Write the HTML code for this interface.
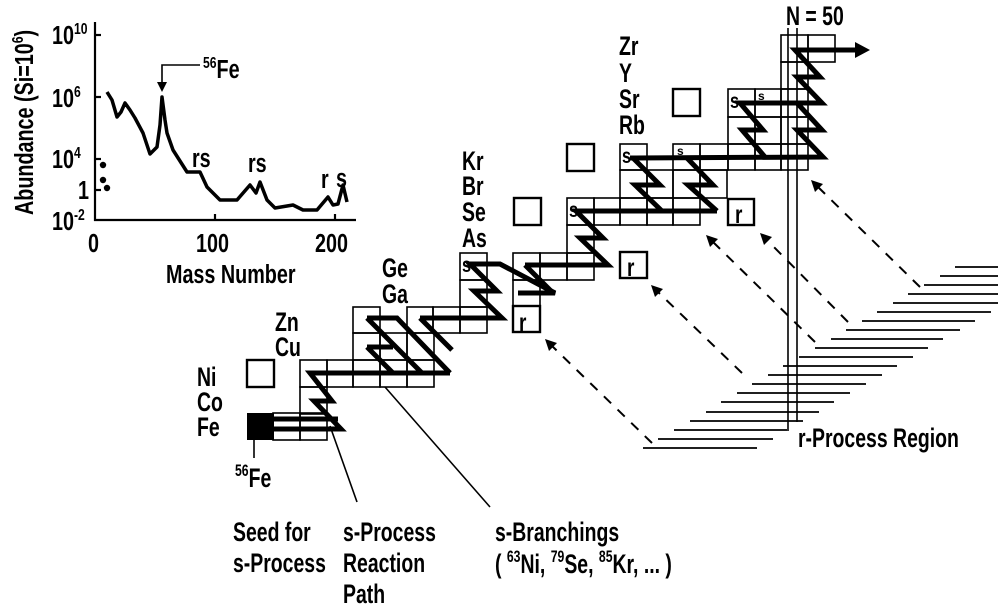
<!DOCTYPE html>
<html><head><meta charset="utf-8"><style>
html,body{margin:0;padding:0;background:#fff}
svg{display:block}
text{font-family:"Liberation Sans",sans-serif;font-weight:bold;fill:#000}
</style></head><body>
<svg width="1003" height="606" viewBox="0 0 1003 606" xmlns="http://www.w3.org/2000/svg">
<!-- Inset plot -->
<g stroke="#000" fill="none" stroke-width="2.2">
<line x1="95" y1="22" x2="95" y2="221"/>
<line x1="94" y1="220" x2="356" y2="220"/>
<line x1="95" y1="35" x2="101" y2="35"/><line x1="95" y1="97" x2="101" y2="97"/><line x1="95" y1="159" x2="101" y2="159"/><line x1="95" y1="190" x2="101" y2="190"/>
<line x1="215" y1="220" x2="215" y2="214"/><line x1="335" y1="220" x2="335" y2="214"/>
<polyline stroke-width="3.5" stroke-linejoin="round" points="107,92 112,100 117,117 121,112 125,103 130,110 135,118 143,133 150,154 157,147 160,125 162,97 165,120 167,133 173,150 187,172 200,172 207,187 220,200 237,200 250,185 256,193 260,182 267,200 275,208 293,205 303,210 317,210 328,197 333,205 338,204 343,185 347,202"/>
<polyline stroke-width="1.6" points="200,65 162,65 162,84"/>
</g>
<polygon points="157,82 167,82 162,92" fill="#000"/>
<circle cx="103" cy="165" r="3.2" fill="#000"/><circle cx="103" cy="180" r="3.2" fill="#000"/><circle cx="107" cy="188" r="3.2" fill="#000"/>
<g font-size="26">
<text transform="translate(33,215) rotate(-90) scale(.76,1)">Abundance (Si=10<tspan font-size="16" dy="-10">6</tspan><tspan dy="10">)</tspan></text>
<text transform="translate(52,44) scale(.76,1)">10<tspan font-size="16" dy="-10">10</tspan></text>
<text transform="translate(52,107) scale(.76,1)">10<tspan font-size="16" dy="-10">6</tspan></text>
<text transform="translate(52,168) scale(.76,1)">10<tspan font-size="16" dy="-10">4</tspan></text>
<text transform="translate(78,199) scale(.76,1)">1</text>
<text transform="translate(52,230) scale(.76,1)">10<tspan font-size="16" dy="-10">-2</tspan></text>
<text transform="translate(88,252) scale(.76,1)">0</text>
<text transform="translate(196,252) scale(.76,1)">100</text>
<text transform="translate(315,252) scale(.76,1)">200</text>
<text transform="translate(166,283) scale(.76,1)">Mass Number</text>
<text transform="translate(203,78) scale(.76,1)"><tspan font-size="16" dy="-10">56</tspan><tspan dy="10">Fe</tspan></text>
<text transform="translate(192,167) scale(.76,1)">rs</text>
<text transform="translate(248,172) scale(.76,1)">rs</text>
<text transform="translate(321,188) scale(.76,1)">r</text>
<text transform="translate(336,187) scale(.76,1)">s</text>
</g>

<!-- Grid cells -->
<rect x="247" y="413" width="27" height="27" fill="#000"/>
<g fill="none" stroke="#000" stroke-width="1.6">
<rect x="273" y="413" width="27" height="27"/><rect x="300" y="413" width="27" height="27"/>
<rect x="300" y="387" width="27" height="27"/>
<rect x="300" y="360" width="27" height="27"/><rect x="327" y="360" width="26" height="27"/><rect x="353" y="360" width="27" height="27"/><rect x="380" y="360" width="27" height="27"/><rect x="407" y="360" width="27" height="27"/>
<rect x="353" y="333" width="27" height="27"/><rect x="380" y="333" width="27" height="27"/><rect x="407" y="333" width="27" height="27"/>
<rect x="353" y="307" width="27" height="26"/><rect x="407" y="307" width="26" height="26"/><rect x="433" y="307" width="27" height="26"/><rect x="460" y="307" width="27" height="26"/>
<rect x="460" y="280" width="27" height="27"/><rect x="460" y="253" width="27" height="27"/>
<rect x="513" y="280" width="27" height="26"/><rect x="513" y="253" width="27" height="27"/><rect x="540" y="253" width="27" height="27"/><rect x="567" y="253" width="27" height="27"/>
<rect x="567" y="225" width="27" height="28"/><rect x="567" y="198" width="27" height="27"/><rect x="594" y="198" width="26" height="27"/><rect x="620" y="198" width="27" height="27"/><rect x="647" y="198" width="26" height="27"/><rect x="673" y="198" width="27" height="27"/>
<rect x="620" y="170" width="27" height="28"/><rect x="647" y="170" width="26" height="28"/><rect x="673" y="170" width="27" height="28"/><rect x="700" y="170" width="27" height="28"/>
<rect x="620" y="144" width="27" height="26"/><rect x="673" y="144" width="27" height="26"/><rect x="700" y="144" width="28" height="26"/><rect x="728" y="144" width="27" height="26"/><rect x="755" y="144" width="26" height="26"/><rect x="781" y="144" width="27" height="26"/>
<rect x="728" y="117" width="27" height="27"/><rect x="755" y="117" width="26" height="27"/><rect x="781" y="117" width="27" height="27"/>
<rect x="728" y="89" width="27" height="28"/><rect x="755" y="89" width="26" height="28"/><rect x="781" y="89" width="27" height="28"/>
<rect x="781" y="62" width="27" height="27"/><rect x="781" y="35" width="27" height="27"/><rect x="808" y="35" width="27" height="27"/>
</g>
<g fill="none" stroke="#000" stroke-width="2.4">
<rect x="247" y="360" width="27" height="27"/>
<rect x="514" y="198" width="27" height="27"/>
<rect x="567" y="144" width="27" height="27"/>
<rect x="673" y="89" width="27" height="27"/>
<rect x="513" y="306" width="27" height="26"/>
<rect x="620" y="252" width="27" height="26"/>
<rect x="728" y="199" width="26" height="26"/>
</g>
<g font-size="25">
<text transform="translate(519,331) scale(.76,1)">r</text>
<text transform="translate(627,276) scale(.76,1)">r</text>
<text transform="translate(735,223) scale(.76,1)">r</text>
</g>
<g font-size="21">
<text transform="translate(462,272) scale(.78,1)">s</text>
<text transform="translate(569,217) scale(.78,1)">s</text>
<text transform="translate(622,163) scale(.78,1)">s</text>
<text transform="translate(730,108) scale(.78,1)">s</text>
</g>
<g font-size="12">
<text x="677" y="155">s</text><text x="758" y="100">s</text>
</g>

<!-- N=50 lines -->
<g stroke="#000" stroke-width="1.6">
<line x1="788" y1="28" x2="788" y2="431"/><line x1="797" y1="28" x2="797" y2="422"/>
</g>

<!-- s-process path -->
<g fill="none" stroke="#000" stroke-width="5" stroke-linejoin="miter">
<polyline points="273,419 338,419"/>
<polyline points="273,429 341,429 314,401 332,401 310,373 450,373"/>
<polyline points="367,318 397,318 450,373"/>
<polyline points="367,318 422,373"/>
<polyline points="367,347 393,347"/>
<polyline points="367,347 393,373"/>
<polyline points="420,318 502,318 474,291 497,291 470,264 500,264 555,293 518,293"/>
<polyline points="420,318 452,350"/>
<polyline points="525,265 608,265 580,238 603,238 576,211 717,211"/>
<polyline points="525,265 553,293"/>
<polyline points="633,158 660,185 635,185 662,211"/>
<polyline points="687,158 713,185 688,185 717,211"/>
<polyline points="630,158 823,157 797,130 822,130 797,103 740,103 763,130 742,130 765,157"/>
<polyline points="797,103 822,103 797,77 820,77 795,50 858,50"/>
</g>
<polygon points="855,42 870,50 855,58" fill="#000"/>

<!-- leader lines -->
<g stroke="#000" stroke-width="1.6">
<line x1="330" y1="426" x2="357" y2="502"/>
<line x1="385" y1="387" x2="490" y2="507"/>
<line x1="254" y1="440" x2="254" y2="458"/>
</g>

<!-- hatches -->
<g stroke="#000" stroke-width="1.7">
<line x1="955" y1="267" x2="998" y2="267"/>
<line x1="940" y1="276" x2="998" y2="276"/>
<line x1="924" y1="285" x2="998" y2="285"/>
<line x1="908" y1="294" x2="998" y2="294"/>
<line x1="893" y1="303" x2="998" y2="303"/>
<line x1="877" y1="312" x2="991" y2="312"/>
<line x1="862" y1="321" x2="975" y2="321"/>
<line x1="846" y1="330" x2="960" y2="330"/>
<line x1="831" y1="339" x2="943" y2="339"/>
<line x1="815" y1="348" x2="928" y2="348"/>
<line x1="799" y1="357" x2="913" y2="357"/>
<line x1="783" y1="366" x2="897" y2="366"/>
<line x1="768" y1="375" x2="882" y2="375"/>
<line x1="752" y1="384" x2="866" y2="384"/>
<line x1="737" y1="393" x2="850" y2="393"/>
<line x1="721" y1="402" x2="834" y2="402"/>
<line x1="706" y1="412" x2="819" y2="412"/>
<line x1="690" y1="421" x2="803" y2="421"/>
<line x1="674" y1="430" x2="787" y2="430"/>
<line x1="658" y1="439" x2="773" y2="439"/>
<line x1="643" y1="448" x2="757" y2="448"/>
</g>

<!-- dashed arrows -->
<g stroke="#000" stroke-width="2" stroke-dasharray="10,9">
<line x1="652" y1="443" x2="551" y2="345"/>
<line x1="742" y1="373" x2="657" y2="291"/>
<line x1="815" y1="342" x2="712" y2="241"/>
<line x1="848" y1="322" x2="766" y2="239"/>
<line x1="920" y1="287" x2="817" y2="186"/>
</g>
<g fill="#000">
<polygon points="545,339 557,343 549,351"/>
<polygon points="651,285 663,289 655,297"/>
<polygon points="706,235 718,239 710,247"/>
<polygon points="760,233 772,237 764,245"/>
<polygon points="811,180 823,184 815,192"/>
</g>

<!-- labels -->
<g font-size="27">
<text transform="translate(197,386) scale(.72,1)">Ni</text>
<text transform="translate(197,411) scale(.72,1)">Co</text>
<text transform="translate(197,436) scale(.72,1)">Fe</text>
<text transform="translate(275,331) scale(.72,1)">Zn</text>
<text transform="translate(275,356) scale(.72,1)">Cu</text>
<text transform="translate(382,277) scale(.72,1)">Ge</text>
<text transform="translate(382,303) scale(.72,1)">Ga</text>
<text transform="translate(462,170) scale(.72,1)">Kr</text>
<text transform="translate(462,195) scale(.72,1)">Br</text>
<text transform="translate(462,221) scale(.72,1)">Se</text>
<text transform="translate(462,247) scale(.72,1)">As</text>
<text transform="translate(619,55) scale(.72,1)">Zr</text>
<text transform="translate(619,82) scale(.72,1)">Y</text>
<text transform="translate(619,108) scale(.72,1)">Sr</text>
<text transform="translate(619,134) scale(.72,1)">Rb</text>
<text transform="translate(786,25) scale(.72,1)">N = 50</text>
<text transform="translate(235,487) scale(.72,1)"><tspan font-size="17" dy="-11">56</tspan><tspan dy="11">Fe</tspan></text>
<text transform="translate(233,541) scale(.72,1)">Seed for</text>
<text transform="translate(233,572) scale(.72,1)">s-Process</text>
<text transform="translate(343,541) scale(.72,1)">s-Process</text>
<text transform="translate(343,572) scale(.72,1)">Reaction</text>
<text transform="translate(343,603) scale(.72,1)">Path</text>
<text transform="translate(495,541) scale(.72,1)">s-Branchings</text>
<text transform="translate(495,573) scale(.72,1)">( <tspan font-size="17" dy="-11">63</tspan><tspan dy="11">Ni, </tspan><tspan font-size="17" dy="-11">79</tspan><tspan dy="11">Se, </tspan><tspan font-size="17" dy="-11">85</tspan><tspan dy="11">Kr, ... )</tspan></text>
<text transform="translate(798,447) scale(.72,1)">r-Process Region</text>
</g>
</svg>
</body></html>
